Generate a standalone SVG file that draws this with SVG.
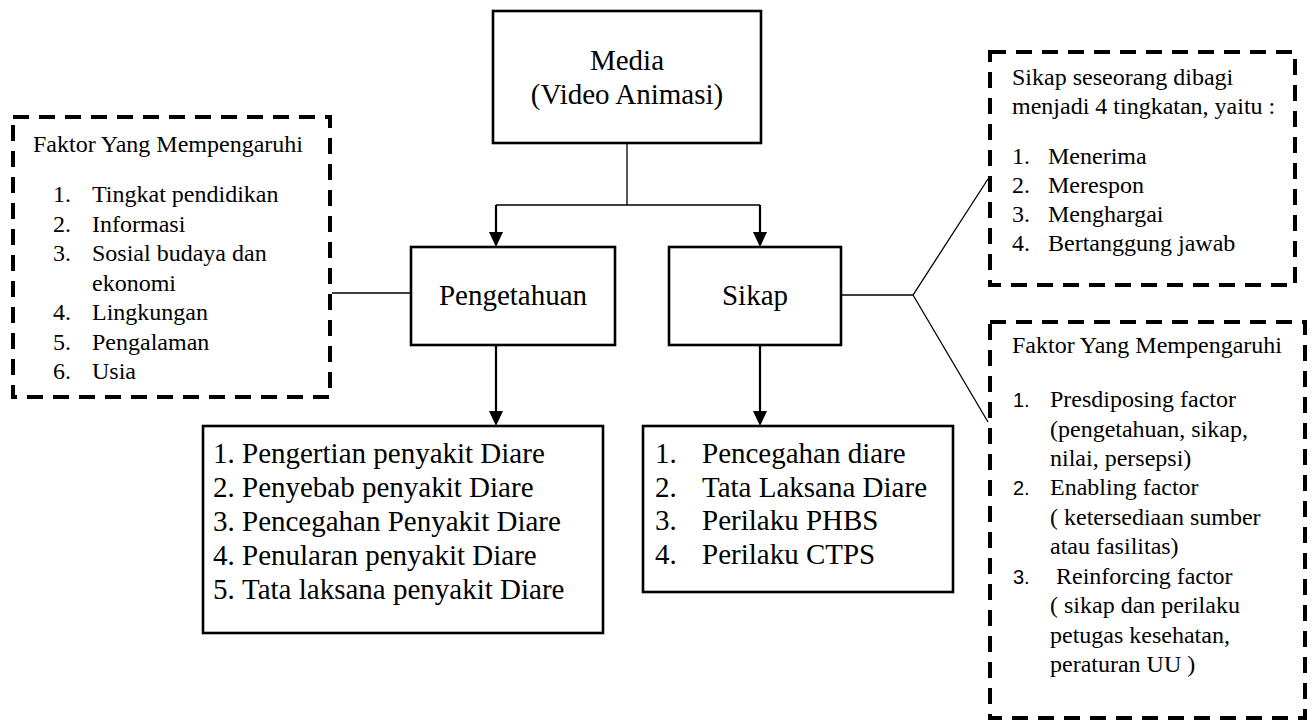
<svg xmlns="http://www.w3.org/2000/svg" width="1315" height="720" viewBox="0 0 1315 720">
<style>
.bg{fill:#fff}
.box{fill:#fff;stroke:#000;stroke-width:2.6}
.dash{fill:none;stroke:#000;stroke-width:4;stroke-dasharray:16 10}
.thin{fill:none;stroke:#000;stroke-width:1.3}
.arr{fill:none;stroke:#000;stroke-width:2.2}
.big{font-family:"Liberation Serif","Times New Roman",serif;font-size:29px;fill:#000}
.sm{font-family:"Liberation Serif","Times New Roman",serif;font-size:24px;fill:#000}
.num{font-family:"Liberation Sans",Arial,sans-serif;font-size:20px;fill:#000}
.c{text-anchor:middle}
</style>
<defs>
<marker id="ah" markerUnits="userSpaceOnUse" markerWidth="15" markerHeight="14" viewBox="0 0 15 14" refX="5" refY="7" orient="auto">
<path d="M0,0 L15,7 L0,14 z" fill="#000"/>
</marker>
</defs>
<rect class="bg" x="0" y="0" width="1315" height="720"/>

<g id="connectors">
<path class="thin" d="M627,143 V205 M496,205 H760"/>
<path class="arr" d="M496,205 V237" marker-end="url(#ah)"/>
<path class="arr" d="M760,205 V237" marker-end="url(#ah)"/>
<path class="arr" d="M496,345 V416" marker-end="url(#ah)"/>
<path class="arr" d="M760,345 V416" marker-end="url(#ah)"/>
<path class="thin" d="M332,293 H411"/>
<path class="thin" d="M841,295 H913 L988,179 M913,295 L988,422"/>
</g>

<g id="media">
<rect class="box" x="493" y="11" width="268" height="132"/>
<text class="big c" x="627" y="70">Media</text>
<text class="big c" x="627" y="104">(Video Animasi)</text>
</g>

<g id="pengetahuan">
<rect class="box" x="411" y="247" width="204" height="98"/>
<text class="big c" x="513" y="305">Pengetahuan</text>
</g>

<g id="sikap">
<rect class="box" x="669" y="247" width="172" height="98"/>
<text class="big c" x="755" y="305">Sikap</text>
</g>

<g id="faktor-kiri">
<rect class="dash" x="13" y="117" width="317" height="280"/>
<text class="sm" x="33" y="152">Faktor Yang Mempengaruhi</text>
<text class="sm" x="53" y="202">1.</text><text class="sm" x="92" y="202">Tingkat pendidikan</text>
<text class="sm" x="53" y="231.5">2.</text><text class="sm" x="92" y="231.5">Informasi</text>
<text class="sm" x="53" y="261">3.</text><text class="sm" x="92" y="261">Sosial budaya dan</text>
<text class="sm" x="92" y="290.5">ekonomi</text>
<text class="sm" x="53" y="320">4.</text><text class="sm" x="92" y="320">Lingkungan</text>
<text class="sm" x="53" y="349.5">5.</text><text class="sm" x="92" y="349.5">Pengalaman</text>
<text class="sm" x="53" y="379">6.</text><text class="sm" x="92" y="379">Usia</text>
</g>

<g id="tingkatan-sikap">
<rect class="dash" x="990" y="52" width="305" height="233"/>
<text class="sm" x="1012" y="85">Sikap seseorang dibagi</text>
<text class="sm" x="1012" y="114">menjadi 4 tingkatan, yaitu :</text>
<text class="sm" x="1012" y="164">1.</text><text class="sm" x="1048" y="164">Menerima</text>
<text class="sm" x="1012" y="193">2.</text><text class="sm" x="1048" y="193">Merespon</text>
<text class="sm" x="1012" y="222">3.</text><text class="sm" x="1048" y="222">Menghargai</text>
<text class="sm" x="1012" y="251">4.</text><text class="sm" x="1048" y="251">Bertanggung jawab</text>
</g>

<g id="faktor-kanan">
<rect class="dash" x="990" y="322" width="315" height="396"/>
<text class="sm" x="1012" y="353">Faktor Yang Mempengaruhi</text>
<text class="num" x="1013" y="407">1.</text><text class="sm" x="1050" y="407">Presdiposing factor</text>
<text class="sm" x="1050" y="437">(pengetahuan, sikap,</text>
<text class="sm" x="1050" y="466">nilai, persepsi)</text>
<text class="num" x="1013" y="495">2.</text><text class="sm" x="1050" y="495">Enabling factor</text>
<text class="sm" x="1050" y="525">( ketersediaan sumber</text>
<text class="sm" x="1050" y="554">atau fasilitas)</text>
<text class="num" x="1013" y="584">3.</text><text class="sm" x="1056" y="584">Reinforcing factor</text>
<text class="sm" x="1050" y="613">( sikap dan perilaku</text>
<text class="sm" x="1050" y="643">petugas kesehatan,</text>
<text class="sm" x="1050" y="672">peraturan UU )</text>
</g>

<g id="materi-pengetahuan">
<rect class="box" x="203" y="426" width="400" height="207"/>
<text class="big" x="213" y="463">1.</text><text class="big" x="242" y="463">Pengertian penyakit Diare</text>
<text class="big" x="213" y="497">2.</text><text class="big" x="242" y="497">Penyebab penyakit Diare</text>
<text class="big" x="213" y="531">3.</text><text class="big" x="242" y="531">Pencegahan Penyakit Diare</text>
<text class="big" x="213" y="565">4.</text><text class="big" x="242" y="565">Penularan penyakit Diare</text>
<text class="big" x="213" y="599">5.</text><text class="big" x="242" y="599">Tata laksana penyakit Diare</text>
</g>

<g id="materi-sikap">
<rect class="box" x="643" y="426" width="310" height="166"/>
<text class="big" x="655" y="463">1.</text><text class="big" x="702" y="463">Pencegahan diare</text>
<text class="big" x="655" y="497">2.</text><text class="big" x="702" y="497">Tata Laksana Diare</text>
<text class="big" x="655" y="530">3.</text><text class="big" x="702" y="530">Perilaku PHBS</text>
<text class="big" x="655" y="564">4.</text><text class="big" x="702" y="564">Perilaku CTPS</text>
</g>
</svg>
